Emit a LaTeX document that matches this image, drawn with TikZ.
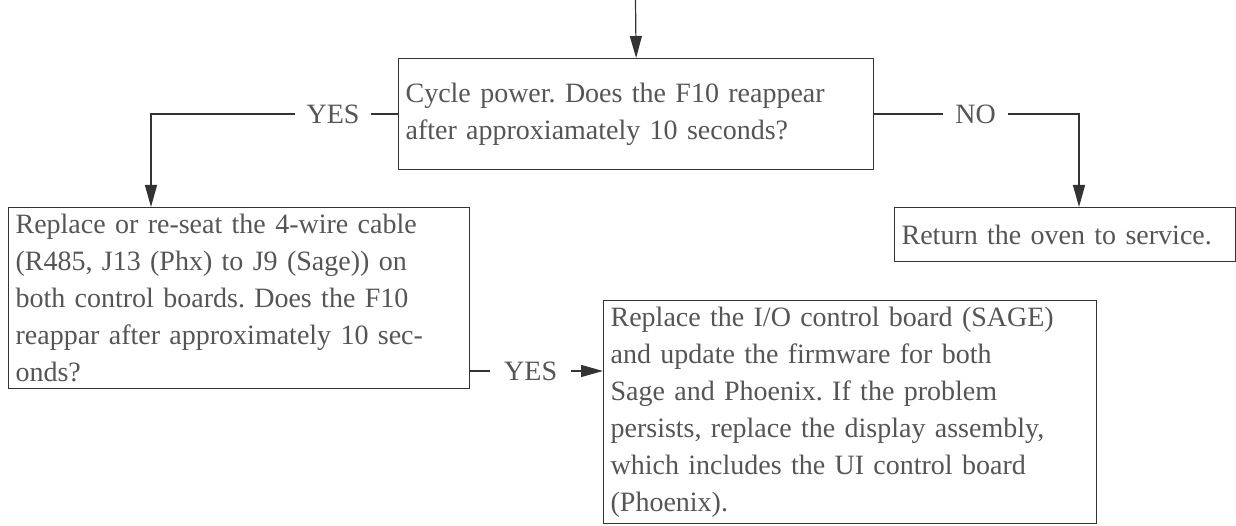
\documentclass[tikz,border=0pt]{standalone}
\usepackage{fontspec}
\setmainfont{Liberation Serif}
\usetikzlibrary{arrows.meta}
\definecolor{linegray}{HTML}{333333}
\definecolor{textgray}{HTML}{555555}
\frenchspacing
\begin{document}
\begin{tikzpicture}[x=0.5pt,y=0.5pt,
	box/.style={draw=linegray,line width=0.6pt,rectangle,anchor=north west,inner xsep=3.5pt,inner ysep=0pt,align=left,text=textgray,font=\fontsize{14}{18.5}\selectfont},
	arr/.style={draw=linegray,line width=0.6pt,-{Triangle[length=11pt,width=6pt]}},
	lbl/.style={fill=white,text=textgray,inner xsep=6pt,font=\fontsize{14}{18.5}\selectfont}]
	\useasboundingbox (0,0) rectangle (1236,525);
	% các hộp
	\node[box,text width=230.5pt,minimum height=55.5pt] (power) at (398,467) {Cycle power. Does the F10 reappear\\after approxiamately 10 seconds?};
	\node[box,text width=223.5pt,minimum height=90.5pt] (cable) at (8,318) {Replace or re-seat the 4-wire cable\\(R485, J13 (Phx) to J9 (Sage)) on\\both control boards. Does the F10\\reappar after approximately 10 sec-\\onds?};
	\node[box,text width=163.5pt,minimum height=27pt] (ret) at (894,318) {Return the oven to service.};
	\node[box,text width=239.5pt,minimum height=111.5pt] (board) at (603,225) {Replace the I/O control board (SAGE)\\and update the firmware for both\\Sage and Phoenix. If the problem\\persists, replace the display assembly,\\which includes the UI control board\\(Phoenix).};
	% điểm phụ
	\coordinate (top) at (635.5,525);
	\coordinate (yesx) at (151,0);
	\coordinate (nox) at (1079,0);
	\coordinate (yesy) at (0,154);
	% mũi tên
	\draw[arr] (top) -- (power.north);
	\draw[arr] (power.west) -- node[lbl,pos=0.263]{YES} (power.west -| yesx) -- (yesx |- cable.north);
	\draw[arr] (power.east) -- node[lbl,pos=0.495]{NO} (power.east -| nox) -- (nox |- ret.north);
	\draw[arr] (yesy -| cable.east) -- node[lbl,pos=0.455,inner xsep=7pt]{YES} (yesy -| board.west);
\end{tikzpicture}
\end{document}
